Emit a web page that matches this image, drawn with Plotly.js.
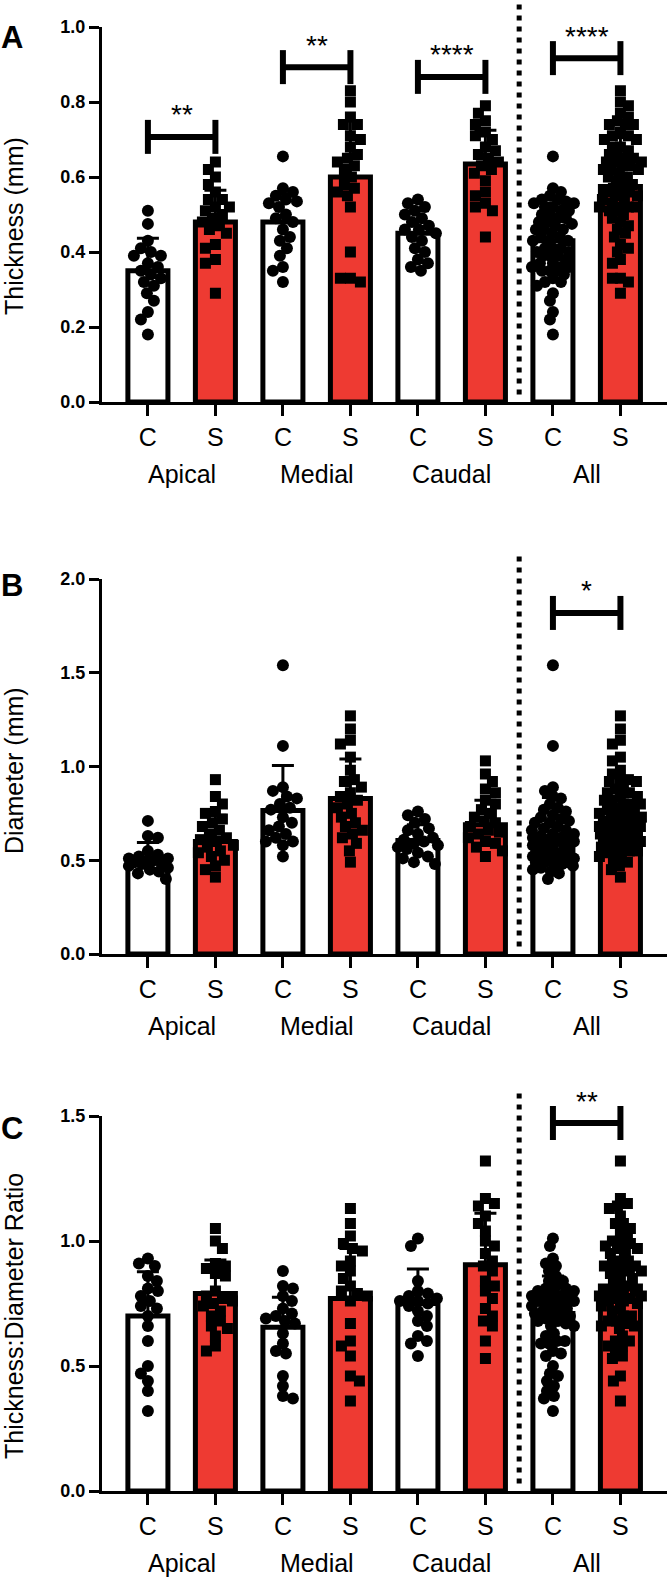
<!DOCTYPE html>
<html><head><meta charset="utf-8">
<script src="https://cdn.plot.ly/plotly-3.0.1.min.js"></script>
<style>html,body{margin:0;padding:0;background:#fff}</style>
</head><body><div id="chart" style="width:667px;height:1582px"></div>
<script>
// ---------------- DATA ----------------
const groups = ['Apical', 'Medial', 'Caudal', 'All'];
const tickText = ['C', 'S', 'C', 'S', 'C', 'S', 'C', 'S'];

// Panel A: Thickness (mm)
const thkApicalC = [0.51, 0.475, 0.43, 0.41, 0.40, 0.39, 0.39, 0.37, 0.36, 0.35, 0.34, 0.33, 0.32, 0.31, 0.29, 0.27, 0.24, 0.22, 0.18];
const thkApicalS = [0.64, 0.62, 0.60, 0.58, 0.56, 0.54, 0.54, 0.52, 0.52, 0.51, 0.50, 0.49, 0.48, 0.47, 0.46, 0.45, 0.42, 0.41, 0.38, 0.37, 0.29];
const thkMedialC = [0.655, 0.57, 0.56, 0.55, 0.54, 0.535, 0.53, 0.52, 0.50, 0.49, 0.48, 0.46, 0.44, 0.43, 0.41, 0.39, 0.36, 0.35, 0.32];
const thkMedialS = [0.83, 0.80, 0.76, 0.74, 0.74, 0.71, 0.70, 0.68, 0.66, 0.65, 0.64, 0.63, 0.62, 0.60, 0.58, 0.57, 0.56, 0.55, 0.52, 0.40, 0.33, 0.33, 0.32];
const thkCaudalC = [0.54, 0.53, 0.52, 0.51, 0.50, 0.49, 0.48, 0.47, 0.46, 0.46, 0.45, 0.44, 0.43, 0.41, 0.40, 0.38, 0.37, 0.36, 0.35];
const thkCaudalS = [0.79, 0.77, 0.75, 0.74, 0.72, 0.71, 0.70, 0.68, 0.67, 0.66, 0.65, 0.64, 0.63, 0.62, 0.61, 0.59, 0.56, 0.55, 0.53, 0.52, 0.51, 0.44];
const thkMeans = [0.35, 0.48, 0.48, 0.60, 0.45, 0.635, 0.43, 0.575];
const thkSD    = [0.087, 0.085, 0.075, 0.15, 0.06, 0.09, 0.10, 0.13];

// Panel B: Diameter (mm)
const diaApicalC = [0.71, 0.63, 0.62, 0.55, 0.53, 0.52, 0.51, 0.51, 0.50, 0.50, 0.49, 0.49, 0.48, 0.47, 0.46, 0.45, 0.44, 0.43, 0.40];
const diaApicalS = [0.93, 0.84, 0.80, 0.76, 0.75, 0.72, 0.70, 0.68, 0.66, 0.64, 0.62, 0.61, 0.60, 0.58, 0.57, 0.55, 0.54, 0.52, 0.50, 0.47, 0.45, 0.41];
const diaMedialC = [1.54, 1.11, 0.89, 0.87, 0.84, 0.83, 0.80, 0.78, 0.77, 0.73, 0.70, 0.68, 0.66, 0.64, 0.62, 0.60, 0.60, 0.58, 0.52];
const diaMedialS = [1.27, 1.20, 1.14, 1.12, 1.05, 0.98, 0.93, 0.92, 0.89, 0.86, 0.84, 0.82, 0.80, 0.78, 0.75, 0.73, 0.70, 0.68, 0.66, 0.64, 0.62, 0.59, 0.55, 0.49];
const diaCaudalC = [0.76, 0.74, 0.72, 0.70, 0.67, 0.66, 0.64, 0.62, 0.61, 0.60, 0.59, 0.58, 0.57, 0.56, 0.54, 0.52, 0.51, 0.49, 0.48];
const diaCaudalS = [1.03, 0.96, 0.92, 0.88, 0.86, 0.82, 0.80, 0.77, 0.75, 0.73, 0.71, 0.70, 0.68, 0.66, 0.65, 0.64, 0.62, 0.60, 0.59, 0.57, 0.55, 0.52];
const diaMeans = [0.51, 0.60, 0.765, 0.83, 0.605, 0.69, 0.625, 0.70];
const diaSD    = [0.085, 0.14, 0.24, 0.21, 0.085, 0.13, 0.21, 0.16];

// Panel C: Thickness:Diameter Ratio
const ratApicalC = [0.93, 0.91, 0.90, 0.86, 0.84, 0.81, 0.80, 0.78, 0.76, 0.74, 0.73, 0.70, 0.66, 0.60, 0.50, 0.47, 0.44, 0.40, 0.32];
const ratApicalS = [1.05, 1.00, 0.97, 0.91, 0.90, 0.89, 0.87, 0.86, 0.80, 0.78, 0.77, 0.76, 0.75, 0.74, 0.72, 0.70, 0.68, 0.66, 0.65, 0.62, 0.58, 0.56];
const ratMedialC = [0.88, 0.82, 0.81, 0.78, 0.76, 0.73, 0.71, 0.70, 0.69, 0.68, 0.67, 0.63, 0.59, 0.56, 0.55, 0.46, 0.42, 0.38, 0.37];
const ratMedialS = [1.13, 1.07, 1.02, 0.99, 0.97, 0.96, 0.92, 0.90, 0.88, 0.85, 0.82, 0.80, 0.79, 0.78, 0.76, 0.67, 0.60, 0.58, 0.54, 0.46, 0.44, 0.36];
const ratCaudalC = [1.01, 0.98, 0.84, 0.80, 0.79, 0.78, 0.77, 0.76, 0.76, 0.75, 0.74, 0.72, 0.70, 0.68, 0.66, 0.62, 0.60, 0.59, 0.54];
const ratCaudalS = [1.32, 1.17, 1.15, 1.14, 1.10, 1.07, 1.04, 1.00, 0.98, 0.95, 0.92, 0.90, 0.88, 0.84, 0.82, 0.80, 0.77, 0.73, 0.70, 0.68, 0.66, 0.60, 0.53];
const ratMeans = [0.70, 0.79, 0.655, 0.77, 0.75, 0.905, 0.71, 0.82];
const ratSD    = [0.177, 0.134, 0.12, 0.20, 0.138, 0.206, 0.15, 0.18];

// Significance comparisons (bar index pairs, label, bracket level in data units)
const sigA = [[0, 1, '**', 0.707], [2, 3, '**', 0.893], [4, 5, '****', 0.867], [6, 7, '****', 0.917]];
const sigB = [[6, 7, '*', 1.819]];
const sigC = [[6, 7, '**', 1.472]];

// ---------------- LAYOUT CONSTANTS ----------------
const W = 667, H = 1582, ML = 102, MR = 0, MT = 27, MB = 91;
const PW = W - ML - MR, PH = H - MT - MB;
const XMIN = -0.68, XMAX = 7.69;
const DIVIDER_AT = 5.5;
const PANEL_H = 375;
const RED = '#EE3A32';
const FONT = 'Liberation Sans, Arial, Helvetica, sans-serif';

function pxY(py) { return (H - MB - py) / PH; }
function pxX(px) { return (px - ML) / PW; }

const panels = [
  { top: 27, range: [0, 1.0], dtick: 0.2, means: thkMeans, sd: thkSD,
    pts: [thkApicalC, thkApicalS, thkMedialC, thkMedialS, thkCaudalC, thkCaudalS],
    title: 'Thickness (mm)', titleY: 226, letter: 'A', letterY: 38, sig: sigA },
  { top: 579, range: [0, 2.0], dtick: 0.5, means: diaMeans, sd: diaSD,
    pts: [diaApicalC, diaApicalS, diaMedialC, diaMedialS, diaCaudalC, diaCaudalS],
    title: 'Diameter (mm)', titleY: 771, letter: 'B', letterY: 586, sig: sigB },
  { top: 1116, range: [0, 1.5], dtick: 0.5, means: ratMeans, sd: ratSD,
    pts: [ratApicalC, ratApicalS, ratMedialC, ratMedialS, ratCaudalC, ratCaudalS],
    title: 'Thickness:Diameter Ratio', titleY: 1316, letter: 'C', letterY: 1128, sig: sigC }
];

function swarmOffsets(vals, pxPerUnit, diam, maxOff) {
  const order = vals.map((v, i) => i).sort((a, b) => vals[b] - vals[a]);
  const placed = [];
  const offs = new Array(vals.length).fill(0);
  let n = 0;
  for (const i of order) {
    const y = vals[i] * pxPerUnit;
    let chosen = null, bestX = 0, bestD = -1;
    for (let s = 0; s <= maxOff; s += 1) {
      const cands = s === 0 ? [0] : (n % 2 ? [-s, s] : [s, -s]);
      for (const x of cands) {
        let mind = Infinity;
        for (const p of placed) { const d = Math.hypot(p.x - x, p.y - y); if (d < mind) mind = d; }
        if (mind >= diam) { chosen = x; break; }
        if (mind > bestD + 0.5) { bestD = mind; bestX = x; }
      }
      if (chosen !== null) break;
    }
    if (chosen === null) chosen = bestX;
    placed.push({ x: chosen, y });
    offs[i] = chosen;
    n++;
  }
  return offs;
}

const traces = [];
const layout = {
  width: W, height: H,
  margin: { l: ML, r: MR, t: MT, b: MB, pad: 0 },
  paper_bgcolor: '#fff', plot_bgcolor: '#fff',
  showlegend: false,
  font: { family: FONT, color: '#000' },
  shapes: [], annotations: []
};
const pxPerCat = PW / (XMAX - XMIN);
const idx = [0, 1, 2, 3, 4, 5, 6, 7];

panels.forEach((p, k) => {
  const sfx = k === 0 ? '' : String(k + 1);
  const xa = 'x' + sfx, ya = 'y' + sfx;
  const bottom = p.top + PANEL_H;
  const pxPerUnit = PANEL_H / (p.range[1] - p.range[0]);
  layout['xaxis' + sfx] = {
    anchor: ya, domain: [0, 1], range: [XMIN, XMAX], tickmode: 'array', tickvals: idx, ticktext: tickText,
    showline: true, linecolor: '#000', linewidth: 3, ticks: 'outside', ticklen: 11, tickwidth: 3, tickcolor: '#000',
    showgrid: false, zeroline: false, tickfont: { size: 25, family: FONT, color: '#000' }, fixedrange: true
  };
  layout['yaxis' + sfx] = {
    anchor: xa, domain: [pxY(bottom), pxY(p.top)], range: p.range, dtick: p.dtick, tick0: 0, tickformat: '.1f',
    showline: true, linecolor: '#000', linewidth: 3, ticks: 'outside', ticklen: 10, tickwidth: 3, tickcolor: '#000',
    showgrid: false, zeroline: false, tickfont: { size: 18, family: FONT, color: '#000', weight: 'bold' }, fixedrange: true
  };
  // bars
  traces.push({
    type: 'bar', x: idx, y: p.means, xaxis: xa, yaxis: ya, width: 0.593,
    marker: { color: idx.map(i => i % 2 ? RED : '#fff'), line: { color: '#000', width: 5 } },
    error_y: { type: 'data', symmetric: false, array: p.sd, arrayminus: p.sd.map(() => 0), color: '#000', thickness: 3, width: 11 },
    hoverinfo: 'skip'
  });
  // points
  const allC = [].concat(p.pts[0], p.pts[2], p.pts[4]);
  const allS = [].concat(p.pts[1], p.pts[3], p.pts[5]);
  const sets = [p.pts[0], p.pts[1], p.pts[2], p.pts[3], p.pts[4], p.pts[5], allC, allS];
  sets.forEach((vals, gi) => {
    const isAll = gi >= 6;
    const offs = swarmOffsets(vals, pxPerUnit, isAll ? 8 : 10, isAll ? 21 : 20);
    traces.push({
      type: 'scatter', mode: 'markers', xaxis: xa, yaxis: ya, cliponaxis: false,
      x: vals.map((v, j) => gi + offs[j] / pxPerCat), y: vals,
      marker: { symbol: gi % 2 ? 'square' : 'circle', size: gi % 2 ? 11 : 12, color: '#000', line: { width: 0 } },
      hoverinfo: 'skip'
    });
  });
  // dotted divider
  const xd = (DIVIDER_AT - XMIN) / (XMAX - XMIN);
  layout.shapes.push({
    type: 'line', xref: xa + ' domain', yref: ya + ' domain', x0: xd, x1: xd, y0: 0.02, y1: 1.07,
    line: { color: '#000', width: 5, dash: '5px,6px' }
  });
  // significance brackets
  const ext = 17 / PANEL_H;
  p.sig.forEach(([i, j, lab, lvl]) => {
    const xi = (i - XMIN) / (XMAX - XMIN), xj = (j - XMIN) / (XMAX - XMIN);
    const yl = (lvl - p.range[0]) / (p.range[1] - p.range[0]);
    const ln = { color: '#000', width: 6 };
    layout.shapes.push({ type: 'line', xref: xa + ' domain', yref: ya + ' domain', x0: xi, x1: xj, y0: yl, y1: yl, line: ln });
    layout.shapes.push({ type: 'line', xref: xa + ' domain', yref: ya + ' domain', x0: xi, x1: xi, y0: yl - ext, y1: yl + ext, line: ln });
    layout.shapes.push({ type: 'line', xref: xa + ' domain', yref: ya + ' domain', x0: xj, x1: xj, y0: yl - ext, y1: yl + ext, line: ln });
    layout.annotations.push({ xref: xa, yref: ya, x: (i + j) / 2, y: lvl, yshift: 22, text: lab, showarrow: false,
      font: { size: 28, family: FONT, color: '#000' }, xanchor: 'center', yanchor: 'middle' });
  });
  // group labels
  groups.forEach((g, gi) => {
    layout.annotations.push({ xref: xa, yref: 'paper', x: gi * 2 + 0.5, y: pxY(bottom + 72), text: g, showarrow: false,
      font: { size: 25, family: FONT, color: '#000' }, xanchor: 'center', yanchor: 'middle' });
  });
  // y title
  layout.annotations.push({ xref: 'paper', yref: 'paper', x: pxX(14), y: pxY(p.titleY), text: p.title, textangle: -90,
    showarrow: false, font: { size: 25, family: FONT, color: '#000' }, xanchor: 'center', yanchor: 'middle' });
  // panel letter
  layout.annotations.push({ xref: 'paper', yref: 'paper', x: pxX(12), y: pxY(p.letterY), text: '<b>' + p.letter + '</b>',
    showarrow: false, font: { size: 31, family: FONT, color: '#000' }, xanchor: 'center', yanchor: 'middle' });
});

Plotly.newPlot('chart', traces, layout, { displayModeBar: false, staticPlot: true });
</script>
</body></html>
